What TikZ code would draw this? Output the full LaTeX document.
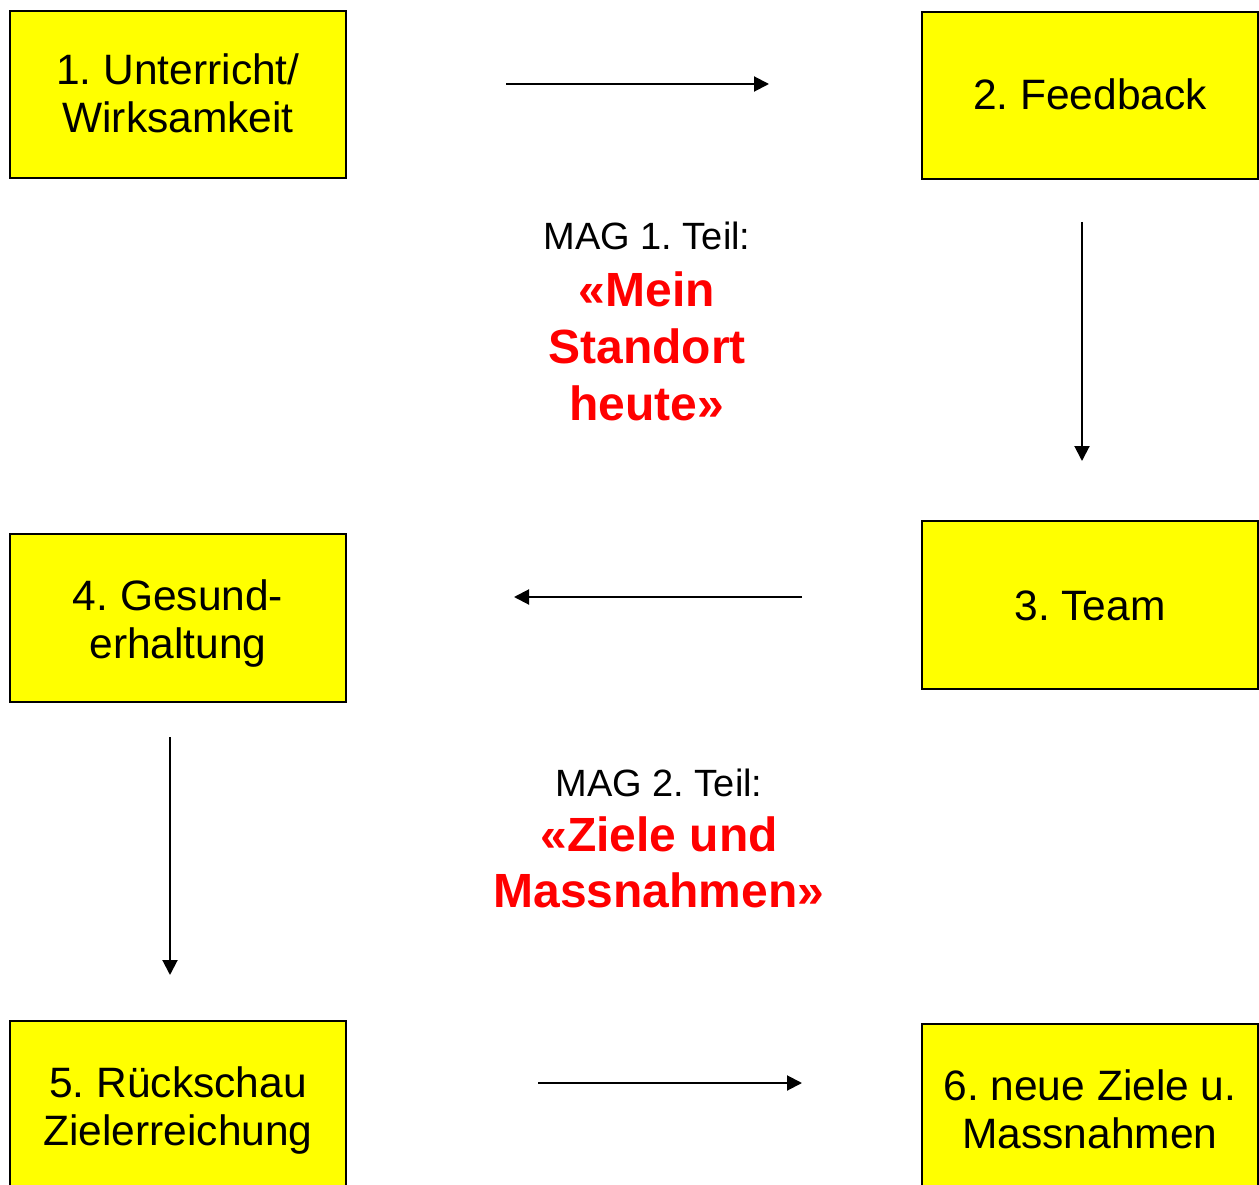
\documentclass[tikz,border=0pt]{standalone}
\usepackage{fontspec}
\setmainfont{Liberation Sans}
\usetikzlibrary{arrows.meta}
\definecolor{boxyellow}{HTML}{FFFF00}
\definecolor{magred}{HTML}{FF0000}
\frenchspacing
\begin{document}
\begin{tikzpicture}[x=1pt,y=-1pt,
  stagebox/.style={draw=black,line width=2pt,fill=boxyellow,inner sep=0pt},
  boxtext/.style={font=\fontsize{42.5}{48}\selectfont,inner sep=0pt,anchor=base},
  magtext/.style={font=\fontsize{38}{44}\selectfont,inner sep=0pt,anchor=base},
  redtext/.style={font=\fontsize{48}{57}\selectfont\bfseries,text=magred,inner sep=0pt,anchor=base},
  flow/.style={line width=2pt,-{Triangle[length=15pt,width=15pt]}}]
\useasboundingbox (0,0) rectangle (1259,1185);
% boxes
\path[stagebox] (10,11) rectangle (346,178) node[pos=.5,inner sep=0pt] (b1) {};
\path[stagebox] (922,12) rectangle (1258,179) node[pos=.5,inner sep=0pt] (b2) {};
\path[stagebox] (922,521) rectangle (1258,689) node[pos=.5,inner sep=0pt] (b3) {};
\path[stagebox] (10,534) rectangle (346,702) node[pos=.5,inner sep=0pt] (b4) {};
\path[stagebox] (10,1021) rectangle (346,1195) node[pos=.5,inner sep=0pt] (b5) {};
\path[stagebox] (922,1024) rectangle (1258,1195) node[pos=.5,inner sep=0pt] (b6) {};
% box texts
\node[boxtext] (t1a) at (178,85) {1. Unterricht/};
\node[boxtext] (t1b) at (178,133) {Wirksamkeit};
\node[boxtext] (t2) at (1090,110) {2. Feedback};
\node[boxtext] (t3) at (1090,620) {3. Team};
\node[boxtext] (t4a) at (178,610) {4. Gesund-};
\node[boxtext] (t4b) at (178,658) {erhaltung};
\node[boxtext] (t5a) at (178,1097) {5. Rückschau};
\node[boxtext] (t5b) at (178,1145) {Zielerreichung};
\node[boxtext] (t6a) at (1090,1100) {6. neue Ziele u.};
\node[boxtext] (t6b) at (1090,1148) {Massnahmen};
% middle texts
\node[magtext] (m1) at (647,250) {MAG 1. Teil:};
\node[redtext] (r1a) at (647,306) {«Mein};
\node[redtext] (r1b) at (647,363) {Standort};
\node[redtext] (r1c) at (647,420) {heute»};
\node[magtext] (m2) at (659,796) {MAG 2. Teil:};
\node[redtext] (r2a) at (659,851) {«Ziele und};
\node[redtext] (r2b) at (659,907) {Massnahmen»};
% arrow end points
\coordinate (a1s) at (506,84);  \coordinate (a1e) at (769,84);
\coordinate (a2s) at (1082,222); \coordinate (a2e) at (1082,461);
\coordinate (a3s) at (802,597); \coordinate (a3e) at (514,597);
\coordinate (a4s) at (170,737); \coordinate (a4e) at (170,975);
\coordinate (a5s) at (538,1083); \coordinate (a5e) at (802,1083);
\draw[flow] (a1s) -- (a1e);
\draw[flow] (a2s) -- (a2e);
\draw[flow] (a3s) -- (a3e);
\draw[flow] (a4s) -- (a4e);
\draw[flow] (a5s) -- (a5e);
\end{tikzpicture}
\end{document}
